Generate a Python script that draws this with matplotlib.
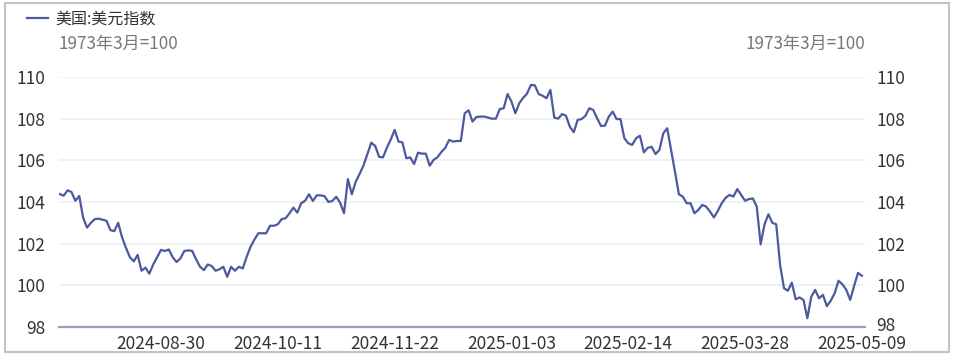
import matplotlib
matplotlib.use('Agg')
import matplotlib.pyplot as plt
from matplotlib.patches import Rectangle
from matplotlib.transforms import ScaledTranslation
import pandas as pd

plt.rcParams['font.family'] = ['Noto Sans CJK SC', 'DejaVu Sans']

# 美元指数，日度（工作日）
start_date = '2024-07-25'
dxy = [
    104.38, 104.30, 104.56, 104.48, 104.06, 104.29, 103.25, 102.77, 103.00, 103.18,
    103.20, 103.15, 103.10, 102.65, 102.60, 103.00, 102.30, 101.80, 101.35, 101.15,
    101.46, 100.70, 100.85, 100.56, 101.00, 101.35, 101.70, 101.65, 101.72, 101.35,
    101.12, 101.30, 101.65, 101.68, 101.65, 101.25, 100.90, 100.73, 101.00, 100.93,
    100.70, 100.77, 100.89, 100.41, 100.89, 100.70, 100.89, 100.81, 101.37, 101.85,
    102.20, 102.50, 102.50, 102.50, 102.86, 102.86, 102.93, 103.18, 103.22, 103.46,
    103.73, 103.49, 103.94, 104.06, 104.37, 104.05, 104.32, 104.32, 104.28, 104.00,
    104.05, 104.25, 103.97, 103.46, 105.10, 104.37, 104.97, 105.35, 105.75, 106.30,
    106.85, 106.69, 106.17, 106.14, 106.60, 107.00, 107.46, 106.90, 106.86, 106.10,
    106.14, 105.82, 106.37, 106.32, 106.32, 105.74, 106.02, 106.15, 106.40, 106.60,
    106.98, 106.90, 106.93, 106.93, 108.26, 108.40, 107.86, 108.08, 108.10, 108.10,
    108.05, 108.00, 108.00, 108.46, 108.50, 109.18, 108.82, 108.26, 108.74, 109.00,
    109.20, 109.62, 109.60, 109.18, 109.10, 108.98, 109.38, 108.05, 108.00, 108.22,
    108.14, 107.61, 107.35, 107.94, 107.98, 108.14, 108.50, 108.42, 108.02, 107.65,
    107.66, 108.10, 108.34, 107.98, 107.98, 107.06, 106.82, 106.74, 107.06, 107.18,
    106.38, 106.60, 106.65, 106.30, 106.50, 107.30, 107.54, 106.50, 105.45, 104.37,
    104.26, 103.94, 103.94, 103.46, 103.62, 103.86, 103.78, 103.54, 103.26, 103.57,
    103.94, 104.20, 104.34, 104.26, 104.62, 104.34, 104.06, 104.14, 104.17, 103.78,
    101.97, 102.93, 103.41, 103.00, 102.93, 100.97, 99.86, 99.74, 100.13, 99.33,
    99.42, 99.30, 98.42, 99.45, 99.78, 99.38, 99.54, 99.00, 99.26, 99.62,
    100.22, 100.05, 99.78, 99.30, 99.97, 100.60, 100.46,
]
y_ticks = [98, 100, 102, 104, 106, 108, 110]
tick_step = 30  # 每6周一个标签
series_name = '美国:美元指数'
unit_note = '1973年3月=100'

dates = pd.bdate_range(start_date, periods=len(dxy))
x = list(range(len(dxy)))
tick_idx = list(range(len(dxy) - 1, -1, -tick_step))[::-1]
tick_lbl = [dates[i].strftime('%Y-%m-%d') for i in tick_idx]

W, H = 957, 359
fig = plt.figure(figsize=(W / 100, H / 100), dpi=100)
ax = fig.add_axes([59 / W, 1 - 327 / H, (865 - 59) / W, (327 - 77) / H])

line_c = '#4b5a9f'
txt_c = '#333333'
ax.plot(x, dxy, color=line_c, lw=1.6, label=series_name)
ax.set_xlim(-0.2, len(dxy) - 1 + 0.8)
ax.set_ylim(98, 110)
ax.set_yticks(y_ticks)
ax.set_xticks(tick_idx)
ax.set_xticklabels(tick_lbl)
ax.grid(axis='y', color='#eef0f7', lw=1.3)
ax.set_axisbelow(True)
for s in ['top', 'right', 'left']:
    ax.spines[s].set_visible(False)
ax.spines['bottom'].set_color('#97a0c4')
ax.spines['bottom'].set_linewidth(1.6)
ax.tick_params(axis='x', length=0, pad=6, labelsize=12.5, labelcolor=txt_c)
ax.tick_params(axis='y', length=0, pad=10, labelsize=12.5, labelcolor=txt_c)

ax2 = ax.twinx()
ax2.set_ylim(98, 110)
ax2.set_yticks(y_ticks)
for s in ax2.spines.values():
    s.set_visible(False)
ax2.tick_params(axis='y', length=0, pad=8, labelsize=12.5, labelcolor=txt_c)
# 右侧98略上移，与日期标签错开
lab98 = ax2.get_yticklabels()[0]
lab98.set_transform(lab98.get_transform() + ScaledTranslation(0, 3 / 100, fig.dpi_scale_trans))

# 单位注释
fig.text(59 / W, 1 - 44 / H, unit_note, ha='left', va='center', fontsize=12.3, color='#777777')
fig.text(865 / W, 1 - 44 / H, unit_note, ha='right', va='center', fontsize=12.3, color='#777777')

# 图例
fig.legend(loc='center left', bbox_to_anchor=(21 / W, 1 - 19 / H), frameon=False,
           fontsize=11.5, handlelength=1.3, handletextpad=0.45, borderaxespad=0,
           labelcolor=txt_c)

fig.add_artist(Rectangle((5 / W, 1 - 352 / H), (949 - 5) / W, (352 - 3) / H,
                         transform=fig.transFigure, fill=False,
                         edgecolor='#c4c4c4', lw=1.5))

fig.savefig('out.png', dpi=100)
